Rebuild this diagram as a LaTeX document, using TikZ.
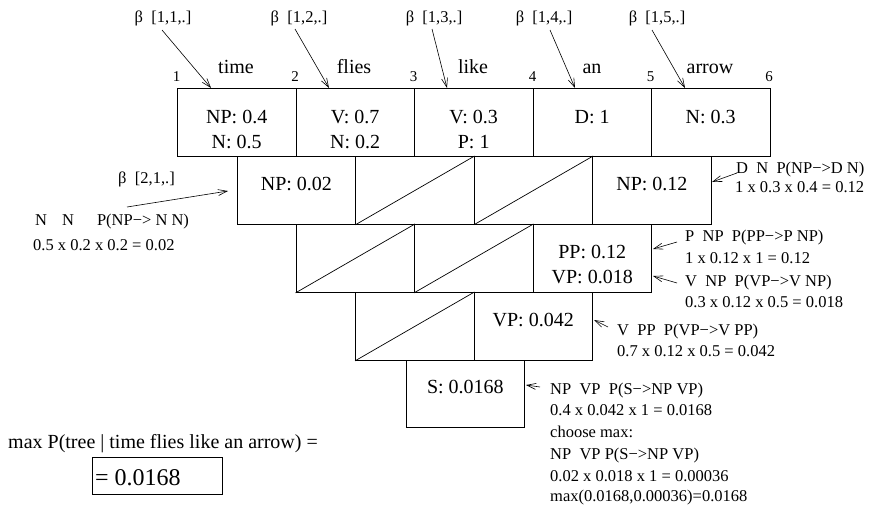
\documentclass[tikz,border=0pt]{standalone}
\usepackage{fontspec}
\setmainfont{Liberation Serif}
\usetikzlibrary{arrows.meta}
\begin{document}
\begin{tikzpicture}[x=1pt,y=-1pt,
  cell/.style={draw, line width=0.9pt, minimum width=118.5pt, minimum height=68pt, inner sep=0pt, anchor=north west},
  big/.style={font=\fontsize{20}{24}\selectfont, inner sep=0pt, anchor=base},
  ann/.style={font=\fontsize{16.5}{19}\selectfont, inner sep=0pt, anchor=base west},
  num/.style={font=\fontsize{15}{18}\selectfont, inner sep=0pt, anchor=base},
  arr/.style={-{Straight Barb[length=9pt,width=6pt]}, line width=0.6pt},
  diag/.style={line width=0.7pt}]
\useasboundingbox (0,0) rectangle (870,504);

% row 1
\node[cell] (c11) at (177,88) {};
\node[cell] (c12) at (295.5,88) {};
\node[cell] (c13) at (414,88) {};
\node[cell] (c14) at (532.5,88) {};
\node[cell] (c15) at (651,88) {};
% row 2
\node[cell] (c21) at (236.7,156) {};
\node[cell] (c22) at (355.2,156) {};
\node[cell] (c23) at (473.7,156) {};
\node[cell] (c24) at (592.2,156) {};
% row 3
\node[cell] (c31) at (295.5,224) {};
\node[cell] (c32) at (414,224) {};
\node[cell] (c33) at (532.5,224) {};
% row 4
\node[cell] (c41) at (355,292) {};
\node[cell] (c42) at (473.5,292) {};
% row 5
\node[cell, minimum height=67pt] (c51) at (405.7,360) {};

% diagonals
\draw[diag] (c22.south west) -- (c22.north east);
\draw[diag] (c23.south west) -- (c23.north east);
\draw[diag] (c31.south west) -- (c31.north east);
\draw[diag] (c32.south west) -- (c32.north east);
\draw[diag] (c41.south west) -- (c41.north east);

% cell texts
\node[big] (t11a) at ([yshift=-35pt]c11.north) {NP: 0.4};
\node[big] (t11b) at ([yshift=-60pt]c11.north) {N: 0.5};
\node[big] (t12a) at ([yshift=-35pt]c12.north) {V: 0.7};
\node[big] (t12b) at ([yshift=-60pt]c12.north) {N: 0.2};
\node[big] (t13a) at ([yshift=-35pt]c13.north) {V: 0.3};
\node[big] (t13b) at ([yshift=-60pt]c13.north) {P: 1};
\node[big] (t14a) at ([yshift=-35pt]c14.north) {D: 1};
\node[big] (t15a) at ([yshift=-35pt]c15.north) {N: 0.3};
\node[big] (t21a) at ([yshift=-34pt]c21.north) {NP: 0.02};
\node[big] (t24a) at ([yshift=-34pt]c24.north) {NP: 0.12};
\node[big] (t33a) at ([yshift=-34pt]c33.north) {PP: 0.12};
\node[big] (t33b) at ([yshift=-59pt]c33.north) {VP: 0.018};
\node[big] (t42a) at ([yshift=-34pt]c42.north) {VP: 0.042};
\node[big] (t51a) at ([yshift=-33pt]c51.north) {S: 0.0168};

% words
\node[big] (w1) at (236,73) {time};
\node[big] (w2) at (354,73) {flies};
\node[big] (w3) at (473,73) {like};
\node[big] (w4) at (592,73) {an};
\node[big] (w5) at (710,73) {arrow};

% positions
\node[num] (n1) at (176.5,81) {1};
\node[num] (n2) at (295,81) {2};
\node[num] (n3) at (413.5,81) {3};
\node[num] (n4) at (532.5,81) {4};
\node[num] (n5) at (650.5,81) {5};
\node[num] (n6) at (769,81) {6};

% beta labels row 1
\node[ann, anchor=base] (b1) at (163,22.5) {β\ \ [1,1,.]};
\node[ann, anchor=base] (b2) at (299,22.5) {β\ \ [1,2,.]};
\node[ann, anchor=base] (b3) at (434,22.5) {β\ \ [1,3,.]};
\node[ann, anchor=base] (b4) at (544,22.5) {β\ \ [1,4,.]};
\node[ann, anchor=base] (b5) at (657,22.5) {β\ \ [1,5,.]};

\coordinate (s1) at (162,30);  \coordinate (e1) at (211,88);
\coordinate (s2) at (295,29);  \coordinate (e2) at (329,88);
\coordinate (s3) at (432,29);  \coordinate (e3) at (447,88);
\coordinate (s4) at (550,30);  \coordinate (e4) at (575,88);
\coordinate (s5) at (652,30);  \coordinate (e5) at (685,88);
\draw[arr] (s1) -- (e1);
\draw[arr] (s2) -- (e2);
\draw[arr] (s3) -- (e3);
\draw[arr] (s4) -- (e4);
\draw[arr] (s5) -- (e5);

% left annotation row 2
\node[ann, anchor=base] (b21) at (146.5,183) {β\ \ [2,1,.]};
\node[ann] (l1) at (35,225) {N\hspace{15pt}N\hspace{23pt}P(NP−> N N)};
\node[ann] (l2) at (33,250) {0.5 x 0.2 x 0.2 = 0.02};
\coordinate (s6) at (127,207); \coordinate (e6) at (228,191);
\draw[arr] (s6) -- (e6);

% right annotations
\node[ann] (r1) at (736,173) {D\ \ N\ \ P(NP−>D N)};
\node[ann] (r2) at (735,192) {1 x 0.3 x 0.4 = 0.12};
\coordinate (s7) at (737,173); \coordinate (e7) at (712,182);
\draw[arr] (s7) -- (e7);

\node[ann] (r3) at (685,241.5) {P\ \ NP\ \ P(PP−>P NP)};
\node[ann] (r4) at (685,263) {1 x 0.12 x 1 = 0.12};
\node[ann] (r5) at (685,286) {V\ \ NP\ \ P(VP−>V NP)};
\node[ann] (r6) at (685,307) {0.3 x 0.12 x 0.5 = 0.018};
\coordinate (s8) at (677,242); \coordinate (e8) at (653,249);
\coordinate (s9) at (677,283); \coordinate (e9) at (653,276);
\draw[arr] (s8) -- (e8);
\draw[arr] (s9) -- (e9);

\node[ann] (r7) at (617,335) {V\ \ PP\ \ P(VP−>V PP)};
\node[ann] (r8) at (617,356) {0.7 x 0.12 x 0.5 = 0.042};
\coordinate (s10) at (608,327); \coordinate (e10) at (594,320);
\draw[arr] (s10) -- (e10);

\node[ann] (r9) at (550,394) {NP\ \ VP\ \ P(S−>NP VP)};
\node[ann] (r10) at (550,415) {0.4 x 0.042 x 1 = 0.0168};
\node[ann] (r11) at (550,437) {choose max:};
\node[ann] (r12) at (550,459) {NP\ \ VP P(S−>NP VP)};
\node[ann] (r13) at (550,481) {0.02 x 0.018 x 1 = 0.00036};
\node[ann] (r14) at (550,501.5) {max(0.0168,0.00036)=0.0168};
\coordinate (s11) at (540,387); \coordinate (e11) at (526,385);
\draw[arr] (s11) -- (e11);

% result
\node[anchor=base west, inner sep=0pt, font=\fontsize{20}{24}\selectfont] (mx) at (8,448) {max P(tree | time flies like an arrow) =};
\node[draw, line width=0.9pt, minimum width=130pt, minimum height=37pt, anchor=north west, inner sep=0pt] (res) at (92,457) {};
\node[anchor=base west, inner sep=0pt, font=\fontsize{24}{28}\selectfont] (rest) at (95,485) {= 0.0168};
\end{tikzpicture}
\end{document}
